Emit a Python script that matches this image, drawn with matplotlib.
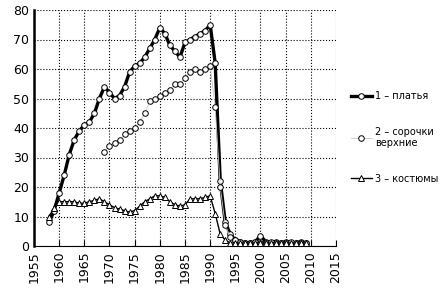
import matplotlib
matplotlib.use("Agg")
import matplotlib.pyplot as plt

years1 = list(range(1958, 2010))
dresses = [8, 12, 18, 24, 31, 36, 39, 41, 42, 45, 50, 54, 52, 50, 51, 54, 59, 61, 62, 64,
           67, 70, 74, 72, 68, 66, 64, 69, 70, 71, 72, 73, 75, 62, 22, 8, 4, 2, 1.5, 1, 1,
           1.5, 3.5, 1.5, 1, 1.5, 1, 1.5, 1, 1, 1.5, 1]

years2 = list(range(1969, 2010))
shirts = [32, 34, 35, 36, 38, 39, 40, 42, 45, 49, 50, 51, 52, 53, 55, 55, 57, 59, 60, 59,
          60, 61, 47, 20, 7, 3, 2, 1.5, 1, 1, 1.5, 1, 1, 1.5, 1, 1, 1, 1.5, 1, 1, 1]

years3 = list(range(1958, 2010))
suits = [10, 13, 15, 15, 15, 15, 14.5, 14.5, 15, 15.5, 16, 15, 14, 13, 12.5, 12, 11.5, 12,
         13.5, 15, 16, 17, 17, 16.5, 15, 14, 13.5, 14, 16, 16, 16, 16.5, 17, 11, 4, 2, 1,
         1, 1, 1, 1, 1, 1, 1, 1, 1, 1, 1, 1, 1, 1, 1]

labels = ["1 – платья", "2 – сорочки\nверхние", "3 – костюмы"]

fig = plt.figure(figsize=(4.43, 2.94), dpi=100)
ax = fig.add_axes([34/443, 48/294, 302/443, 236/294])

ax.plot(years1, dresses, color="black", lw=2.4, marker="o", ms=4,
        mfc="white", mec="black", mew=0.7, label=labels[0])
ax.plot(years2, shirts, color="#c8c8c8", lw=0.6, marker="o", ms=4,
        mfc="white", mec="black", mew=0.7, label=labels[1])
ax.plot(years3, suits, color="black", lw=1.0, marker="^", ms=4,
        mfc="white", mec="black", mew=0.7, label=labels[2])

ax.set_xlim(1955, 2015)
ax.set_ylim(0, 80)
ax.set_xticks(range(1955, 2016, 5))
ax.set_yticks(range(0, 81, 10))
ax.tick_params(axis="x", labelrotation=90, labelsize=9, length=4, direction="in")
ax.tick_params(axis="y", labelsize=9, length=0)
ax.grid(True, linestyle=":", color="black", lw=0.8)
ax.spines["top"].set_visible(False)
ax.spines["right"].set_visible(False)
ax.spines["left"].set_linewidth(1.8)

ax.legend(loc="center left", bbox_to_anchor=(1.02, 0.46), frameon=False,
          fontsize=7, handlelength=2.2, labelspacing=2.6, handletextpad=0.3)

fig.savefig("out.png", dpi=100)
